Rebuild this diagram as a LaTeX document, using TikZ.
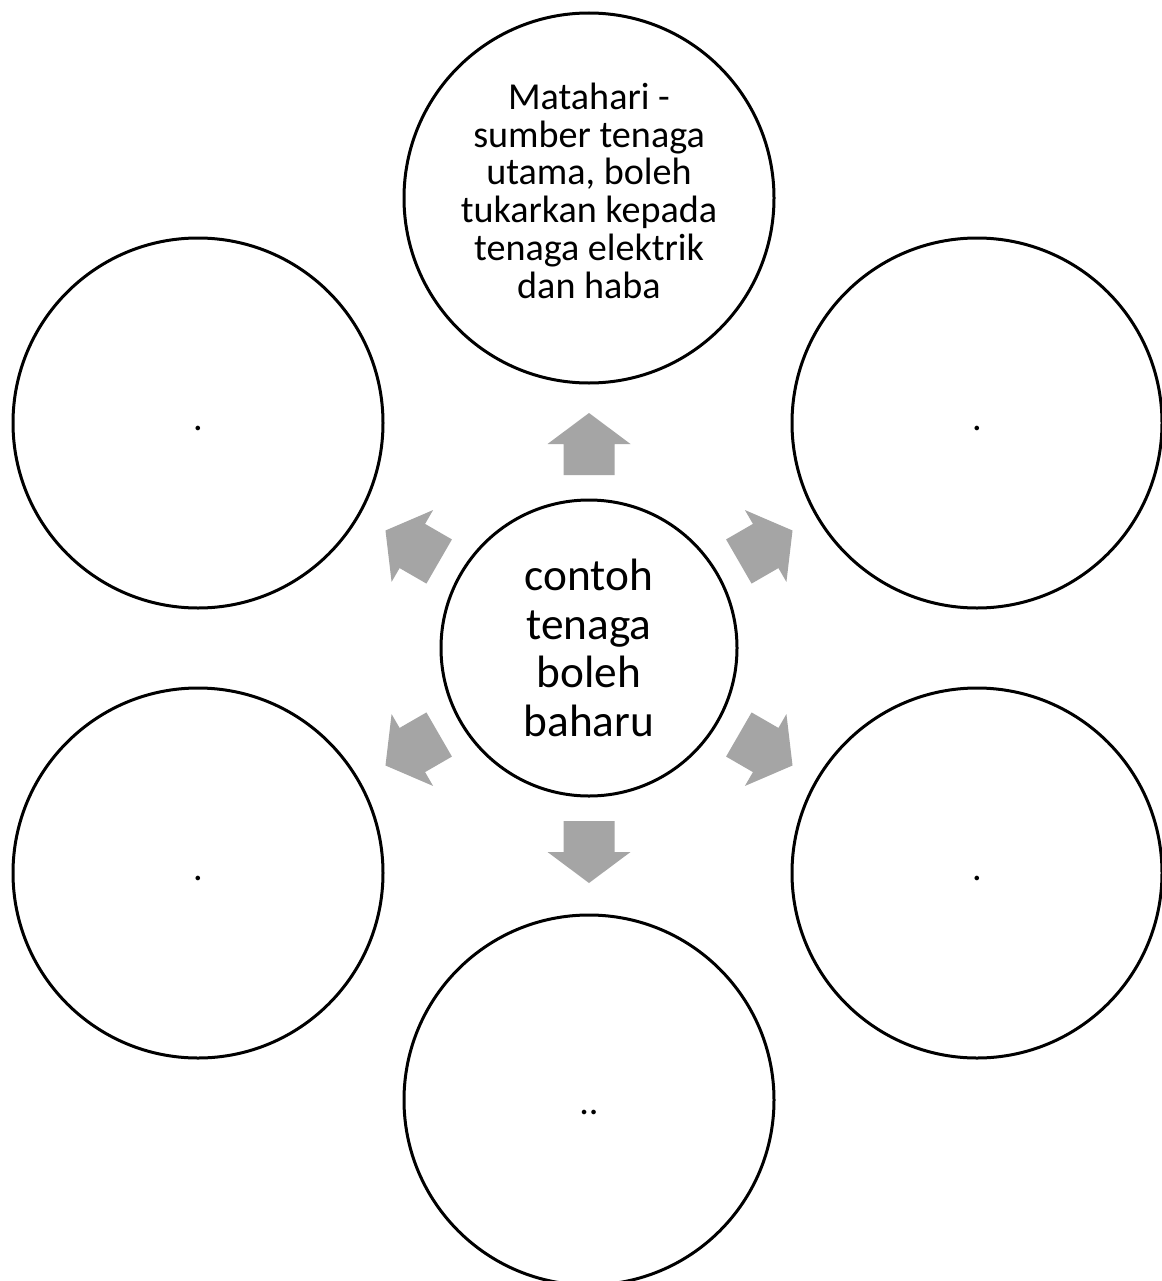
\documentclass[tikz,border=0pt]{standalone}
\usepackage{fontspec}
\setmainfont{Carlito}
\definecolor{arrowgray}{HTML}{A5A5A5}
\tikzset{
  outer/.style={circle, draw=black, line width=2.25pt, minimum size=277.5pt, inner sep=0pt, align=center, font=\fontsize{28.6}{28.3}\selectfont},
  outertext/.style={inner sep=0pt, align=center, font=\fontsize{28.6}{28.3}\selectfont},
  hub/.style={circle, draw=black, line width=2.25pt, minimum size=222pt, inner sep=0pt, align=center, font=\fontsize{34}{36.4}\selectfont},
  blockarrow/.pic={\fill[arrowgray] (-31,-25.5) -- (0,-25.5) -- (0,-41.5) -- (31,0) -- (0,41.5) -- (0,25.5) -- (-31,25.5) -- cycle;}
}
\begin{document}
\begin{tikzpicture}[x=0.75pt,y=0.75pt]
\useasboundingbox (0,0) rectangle (1162,-1281);
\clip (0,0) rectangle (1162,-1281);
\fill[white] (0,0) rectangle (1162,-1281);
\node[hub] (c) at (589,-648) {contoh\\tenaga\\boleh\\baharu};
\node[outer] (t) at (589,-198) {};
\node[outertext] (tt) at ([yshift=5.5pt]t.center) {Matahari -\\sumber tenaga\\utama, boleh\\tukarkan kepada\\tenaga elektrik\\dan haba};
\node[outer] (ul) at (198,-423) {\strut.};
\node[outer] (ur) at (977,-423) {\strut.};
\node[outer] (ll) at (198,-873) {\strut.};
\node[outer] (lr) at (977,-873) {\strut.};
\node[outer] (b) at (589,-1100) {\strut\raisebox{-5pt}{..}};
\foreach \a in {90,30,-30,-90,-150,150}
  \pic[rotate=\a] at ([shift={(\a:204)}]c.center) {blockarrow};
\end{tikzpicture}
\end{document}
